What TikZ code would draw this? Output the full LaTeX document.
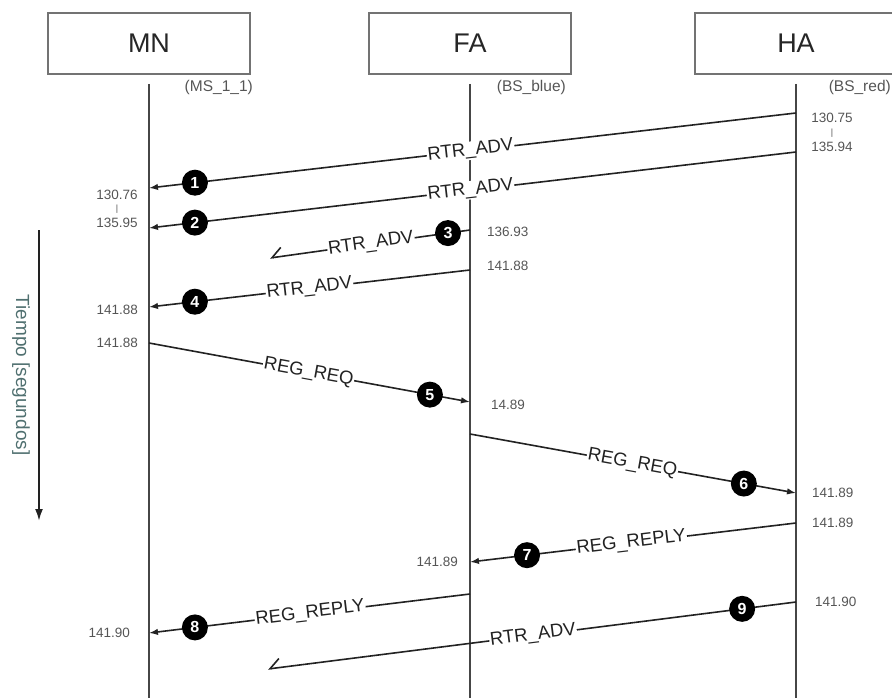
\documentclass[tikz,border=0pt]{standalone}
\usepackage{fontspec}
\setmainfont{Liberation Sans}
\usetikzlibrary{arrows.meta}
\definecolor{ink}{RGB}{34,34,34}
\definecolor{life}{RGB}{70,70,70}
\definecolor{boxline}{RGB}{115,115,115}
\definecolor{stamp}{RGB}{85,85,85}
\definecolor{axistext}{RGB}{80,112,112}

\begin{document}
\begin{tikzpicture}[x=1pt,y=-1pt,
  actor/.style={draw=boxline, line width=1.4pt, fill=white, minimum width=202pt,
    minimum height=61pt, inner sep=0pt, text=black!85,
    font=\fontsize{27}{30}\selectfont},
  tag/.style={inner sep=0pt, text=stamp, font=\fontsize{15.5}{17}\selectfont},
  lifeline/.style={draw=life, line width=1.6pt},
  msg/.style={draw=ink, line width=1.6pt, -{Latex[length=9pt,width=6.5pt]}},
  lost/.style={draw=ink, line width=1.6pt,
    -{Straight Barb[length=10pt,width=18pt,harpoon,swap]}},
  lbl/.style={sloped, fill=white, inner sep=1pt, text=ink,
    font=\fontsize{18.5}{20}\selectfont},
  num/.style={circle, fill=black, text=white, minimum size=26pt, inner sep=0pt,
    font=\fontsize{16}{16}\selectfont\bfseries},
  time/.style={inner sep=0pt, text=stamp, font=\fontsize{13.5}{14}\selectfont},
  bar/.style={inner sep=0pt, text=stamp, font=\fontsize{9}{9}\selectfont},
]
\useasboundingbox (0,0) rectangle (892,698);
\clip (0,0) rectangle (892,698);

% participants
\node[actor] (mn) at (149,43.5) {MN};
\node[actor] (fa) at (470,43.5) {FA};
\node[actor] (ha) at (796,43.5) {HA};
\node[tag, anchor=east] (mntag) at (253,87) {(MS\_1\_1)};
\node[tag, anchor=east] (fatag) at (566,87) {(BS\_blue)};
\node[tag, anchor=east] (hatag) at (891,87) {(BS\_red)};

% lifelines
\coordinate (mnTop) at (149,84);  \coordinate (mnBot) at (149,698);
\coordinate (faTop) at (470,84);  \coordinate (faBot) at (470,698);
\coordinate (haTop) at (796,84);  \coordinate (haBot) at (796,698);
\draw[lifeline] (mnTop) -- (mnBot);
\draw[lifeline] (faTop) -- (faBot);
\draw[lifeline] (haTop) -- (haBot);

% time axis
\coordinate (tTop) at (39,230);
\coordinate (tBot) at (39,521);
\draw[draw=ink, line width=2pt, -{Latex[length=12pt,width=8pt]}] (tTop) -- (tBot);
\node[rotate=-90, inner sep=0pt, text=axistext, font=\fontsize{19}{20}\selectfont]
  (axis) at (21,375) {Tiempo [segundos]};

% message end points
\coordinate (ha1) at (796,113);  \coordinate (mn1) at (149,188);
\coordinate (ha2) at (796,152);  \coordinate (mn2) at (149,228);
\coordinate (fa3) at (470,230);  \coordinate (lost3) at (270,258);
\coordinate (fa4) at (470,270);  \coordinate (mn4) at (149,307);
\coordinate (mn5) at (149,343);  \coordinate (fa5) at (470,402);
\coordinate (fa6) at (470,434);  \coordinate (ha6) at (796,493);
\coordinate (ha7) at (796,523);  \coordinate (fa7) at (470,562);
\coordinate (fa8) at (470,594);  \coordinate (mn8) at (149,633);
\coordinate (ha9) at (796,602);  \coordinate (lost9) at (268,669);

% messages
\draw[msg] (ha1) -- node[lbl, pos=0.503] (l1) {RTR\_ADV}
  node[num, pos=0.929] (n1) {1} (mn1);
\draw[msg] (ha2) -- node[lbl, pos=0.503] (l2) {RTR\_ADV}
  node[num, pos=0.929] (n2) {2} (mn2);
\draw[lost] (fa3) -- node[lbl, pos=0.495] (l3) {RTR\_ADV}
  node[num, pos=0.11] (n3) {3} (lost3);
\draw[msg] (fa4) -- node[lbl, pos=0.5] (l4) {RTR\_ADV}
  node[num, pos=0.857] (n4) {4} (mn4);
\draw[msg] (mn5) -- node[lbl, pos=0.497] (l5) {REG\_REQ}
  node[num, pos=0.875] (n5) {5} (fa5);
\draw[msg] (fa6) -- node[lbl, pos=0.498] (l6) {REG\_REQ}
  node[num, pos=0.84] (n6) {6} (ha6);
\draw[msg] (ha7) -- node[lbl, pos=0.505] (l7) {REG\_REPLY}
  node[num, pos=0.825] (n7) {7} (fa7);
\draw[msg] (fa8) -- node[lbl, pos=0.498] (l8) {REG\_REPLY}
  node[num, pos=0.857] (n8) {8} (mn8);
\draw[lost] (ha9) -- node[lbl, pos=0.498] (l9) {RTR\_ADV}
  node[num, pos=0.102] (n9) {9} (lost9);

% time stamps
\node[time] (s1a) at (117,195) {130.76};
\node[bar]  (s1b) at (117,209) {|};
\node[time] (s1c) at (117,223) {135.95};
\node[time] (s2a) at (832,118) {130.75};
\node[bar]  (s2b) at (832,133) {|};
\node[time] (s2c) at (832,147) {135.94};
\node[time, anchor=west] (s3) at (487,232) {136.93};
\node[time, anchor=west] (s4) at (487,266) {141.88};
\node[time, anchor=east] (s5) at (138,310) {141.88};
\node[time, anchor=east] (s6) at (138,343) {141.88};
\node[time, anchor=west] (s7) at (491,405) {14.89};
\node[time, anchor=west] (s8) at (812,493) {141.89};
\node[time, anchor=west] (s9) at (812,523) {141.89};
\node[time, anchor=east] (s10) at (458,562) {141.89};
\node[time, anchor=west] (s11) at (815,602) {141.90};
\node[time, anchor=east] (s12) at (130,633) {141.90};
\end{tikzpicture}
\end{document}
